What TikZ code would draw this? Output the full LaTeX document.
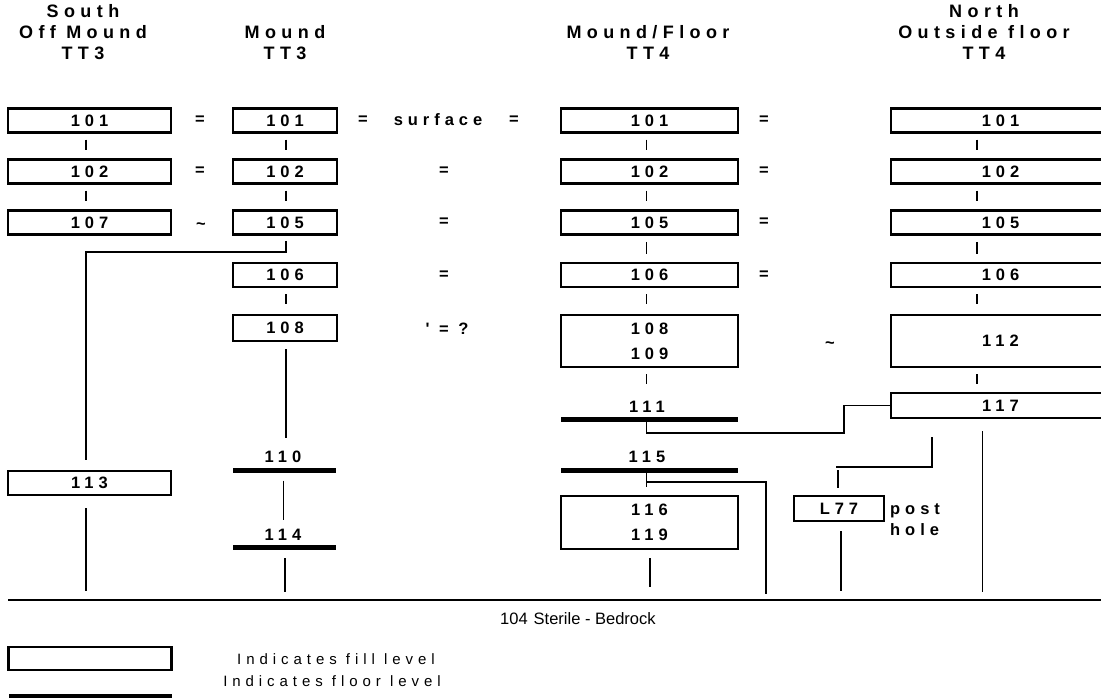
\documentclass[tikz,border=0pt]{standalone}
\usepackage{fontspec}
\setmainfont{Liberation Sans}
\newfontfamily\trkB{Liberation Sans Bold}[LetterSpace=30,Ligatures={TeXOff,NoCommon}]
\newfontfamily\trkH{Liberation Sans Bold}[LetterSpace=30,Ligatures={TeXOff,NoCommon}]
\newfontfamily\trkR{Liberation Sans}[LetterSpace=33,Ligatures={TeXOff,NoCommon}]
\newcommand\lblf{\trkB\fontsize{16.5}{25}\selectfont}
\newcommand\hdrf{\trkH\fontsize{18}{21}\selectfont}
\newcommand\legf{\trkR\fontsize{15}{17}\selectfont}
\begin{document}
\begin{tikzpicture}[x=1pt,y=-1pt,
  fillbox/.style={draw,line width=2.5pt,inner sep=0pt,minimum height=24pt,align=center,font=\lblf},
  flbar/.style={fill=black,draw=none,inner sep=0pt,minimum height=5pt},
  lbl/.style={inner sep=0pt,font=\lblf},
  hdr/.style={inner sep=0pt,align=center,font=\hdrf},
  legtxt/.style={inner sep=0pt,font=\legf},
  conn/.style={line width=1.3pt}]
\clip (0,0) rectangle (1101,698);
% headers
\node[hdr] (h1) at (83,32) {South\\Off Mound\\TT3};
\node[hdr] (h2) at (285,42.5) {Mound\\TT3};
\node[hdr] (h3) at (648,42.5) {Mound/Floor\\TT4};
\node[hdr] (h4) at (984,32) {North\\Outside floor\\TT4};
% column 1
\node[fillbox,minimum width=163pt] (a1) at (89.5,120.5) {101};
\node[fillbox,minimum width=163pt] (a2) at (89.5,171.5) {102};
\node[fillbox,minimum width=163pt] (a3) at (89.5,222.5) {107};
\node[fillbox,minimum width=163pt] (a13) at (89.5,483) {113};
% column 2
\node[fillbox,minimum width=104pt] (b1) at (285,120.5) {101};
\node[fillbox,minimum width=104pt] (b2) at (285,171.5) {102};
\node[fillbox,minimum width=104pt] (b3) at (285,222.5) {105};
\node[fillbox,minimum width=104pt] (b4) at (285,275) {106};
\node[fillbox,minimum width=104pt,minimum height=26pt] (b5) at (285,328) {108};
\node[lbl] (t110) at (283,457) {110};
\node[flbar,minimum width=103pt] (f110) at (284.5,470) {};
\node[lbl] (t114) at (283,535) {114};
\node[flbar,minimum width=103pt] (f114) at (284.5,547.5) {};
% column 3
\node[fillbox,minimum width=177pt] (c1) at (649.5,120.5) {101};
\node[fillbox,minimum width=177pt] (c2) at (649.5,171.5) {102};
\node[fillbox,minimum width=177pt] (c3) at (649.5,222.5) {105};
\node[fillbox,minimum width=177pt] (c4) at (649.5,275) {106};
\node[fillbox,minimum width=177pt,minimum height=52pt] (c5) at (649.5,341) {108\\109};
\node[lbl] (t111) at (647,407) {111};
\node[flbar,minimum width=177pt] (f111) at (649.5,419.5) {};
\node[lbl] (t115) at (647,457) {115};
\node[flbar,minimum width=177pt] (f115) at (649.5,470) {};
\node[fillbox,minimum width=177pt,minimum height=53pt] (c9) at (649.5,522.5) {116\\119};
% column 4
\node[fillbox,minimum width=219pt] (d1) at (1000.5,120.5) {101};
\node[fillbox,minimum width=219pt] (d2) at (1000.5,171.5) {102};
\node[fillbox,minimum width=219pt] (d3) at (1000.5,222.5) {105};
\node[fillbox,minimum width=219pt] (d4) at (1000.5,275) {106};
\node[fillbox,minimum width=219pt,minimum height=52pt] (d5) at (1000.5,341) {112};
\node[fillbox,minimum width=219pt,minimum height=25pt] (d7) at (1000.5,405.5) {117};
% post hole
\node[fillbox,minimum width=90pt,minimum height=25pt] (e1) at (839,508.5) {L77};
\node[lbl,anchor=west] (ph1) at (890,511) {post};
\node[lbl,anchor=west] (ph2) at (890,530) {hole};
% relation signs
\node[lbl] (q1) at (200,120.5) {=};
\node[lbl] (q2) at (200,171.5) {=};
\node[lbl] (q3) at (201,226) {\textasciitilde};
\node[lbl] (q4) at (363,120.5) {=};
\node[lbl] (surf) at (438,120) {surface};
\node[lbl] (q5) at (514,120.5) {=};
\node[lbl] (q6) at (444,171.5) {=};
\node[lbl] (q7) at (444,222.5) {=};
\node[lbl] (q8) at (444,275) {=};
\node[lbl] (q9) at (447,329) {' = ?};
\node[lbl] (r1) at (764,120.5) {=};
\node[lbl] (r2) at (764,171.5) {=};
\node[lbl] (r3) at (764,222.5) {=};
\node[lbl] (r4) at (764,275) {=};
\node[lbl] (r5) at (830,345) {\textasciitilde};
% coordinates
\coordinate (gl) at (8,600);
\coordinate (gr) at (1101,600);
\coordinate (jC) at (86,252);
\coordinate (jA) at (844,433);
\coordinate (jB) at (766,482);
\coordinate (g1) at (86,591);
\coordinate (g2) at (285,592);
\coordinate (g3) at (650,587);
\coordinate (g3b) at (766,594);
\coordinate (g4) at (982.5,592);
\coordinate (g5) at (841,591);
\coordinate (p1) at (932,437);
\coordinate (p2) at (932,467);
\coordinate (p3) at (836,467);
% column 1 connectors
\draw[conn] ([xshift=-3.5pt,yshift=-6pt]a1.south) -- ([xshift=-3.5pt,yshift=8pt]a2.north);
\draw[conn] ([xshift=-3.5pt,yshift=-6pt]a2.south) -- ([xshift=-3.5pt,yshift=8pt]a3.north);
\draw[conn] ([xshift=1pt,yshift=-5pt]b3.south) |- (jC) -- ([xshift=-3.5pt,yshift=10pt]a13.north);
\draw[conn] ([xshift=-3.5pt,yshift=-12pt]a13.south) -- (g1);
% column 2 connectors
\draw[conn] ([xshift=1pt,yshift=-6pt]b1.south) -- ([xshift=1pt,yshift=8pt]b2.north);
\draw[conn] ([xshift=1pt,yshift=-6pt]b2.south) -- ([xshift=1pt,yshift=8pt]b3.north);
\draw[conn] ([xshift=1pt,yshift=-6pt]b4.south) -- ([xshift=1pt,yshift=10pt]b5.north);
\draw[conn] ([xshift=1pt,yshift=-7pt]b5.south) -- ([xshift=1.5pt,yshift=29.5pt]f110.north);
\draw[conn] ([xshift=-1pt,yshift=-8pt]f110.south) -- ([xshift=-1pt,yshift=25pt]f114.north);
\draw[conn] ([xshift=0.5pt,yshift=-8pt]f114.south) -- (g2);
% column 3 connectors
\draw[conn] ([xshift=-3pt,yshift=-6pt]c1.south) -- ([xshift=-3pt,yshift=8pt]c2.north);
\draw[conn] ([xshift=-3pt,yshift=-6pt]c2.south) -- ([xshift=-3pt,yshift=8pt]c3.north);
\draw[conn] ([xshift=-3pt,yshift=-6pt]c3.south) -- ([xshift=-3pt,yshift=8pt]c4.north);
\draw[conn] ([xshift=-3pt,yshift=-6pt]c4.south) -- ([xshift=-3pt,yshift=10pt]c5.north);
\draw[conn] ([xshift=-3pt,yshift=-6pt]c5.south) -- ([xshift=-3pt,yshift=33pt]f111.north);
\draw[conn] ([xshift=-3pt]f111.south) |- (jA) |- (d7.west);
\coordinate (t115b) at ([xshift=-3pt]f115.south);
\draw[conn] (t115b) -- ([xshift=-3pt,yshift=8pt]c9.north);
\draw[conn] (t115b |- jB) -- (jB) -- (g3b);
\draw[conn] ([xshift=0.5pt,yshift=-8pt]c9.south) -- (g3);
% column 4 connectors
\draw[conn] ([xshift=-23.5pt,yshift=-6pt]d1.south) -- ([xshift=-23.5pt,yshift=8pt]d2.north);
\draw[conn] ([xshift=-23.5pt,yshift=-6pt]d2.south) -- ([xshift=-23.5pt,yshift=8pt]d3.north);
\draw[conn] ([xshift=-23.5pt,yshift=-6pt]d3.south) -- ([xshift=-23.5pt,yshift=8pt]d4.north);
\draw[conn] ([xshift=-23.5pt,yshift=-6pt]d4.south) -- ([xshift=-23.5pt,yshift=10pt]d5.north);
\draw[conn] ([xshift=-23.5pt,yshift=-6pt]d5.south) -- ([xshift=-23.5pt,yshift=8pt]d7.north);
\draw[conn] ([xshift=-18pt,yshift=-12pt]d7.south) -- (g4);
% post hole connectors
\draw[conn] (p1) -- (p2) -- (p3);
\draw[conn] ([xshift=-1pt,yshift=7pt]e1.north) -- ([xshift=-1pt,yshift=25pt]e1.north);
\draw[conn] ([xshift=2pt,yshift=-9pt]e1.south) -- (g5);
% ground
\draw[line width=2pt] (gl) -- (gr);
\node[inner sep=0pt,anchor=west,font=\fontsize{16.5}{18}\selectfont] (bed) at (500,619) {104\hspace{6pt}Sterile - Bedrock};
% legend
\node[fillbox,minimum width=163pt,minimum height=23pt] (lg1) at (90,658.5) {};
\node[flbar,minimum width=163pt] (lg2) at (90,696) {};
\node[legtxt] (lt1) at (336,659) {Indicates fill level};
\node[legtxt] (lt2) at (332,681) {Indicates floor level};
\end{tikzpicture}
\end{document}
